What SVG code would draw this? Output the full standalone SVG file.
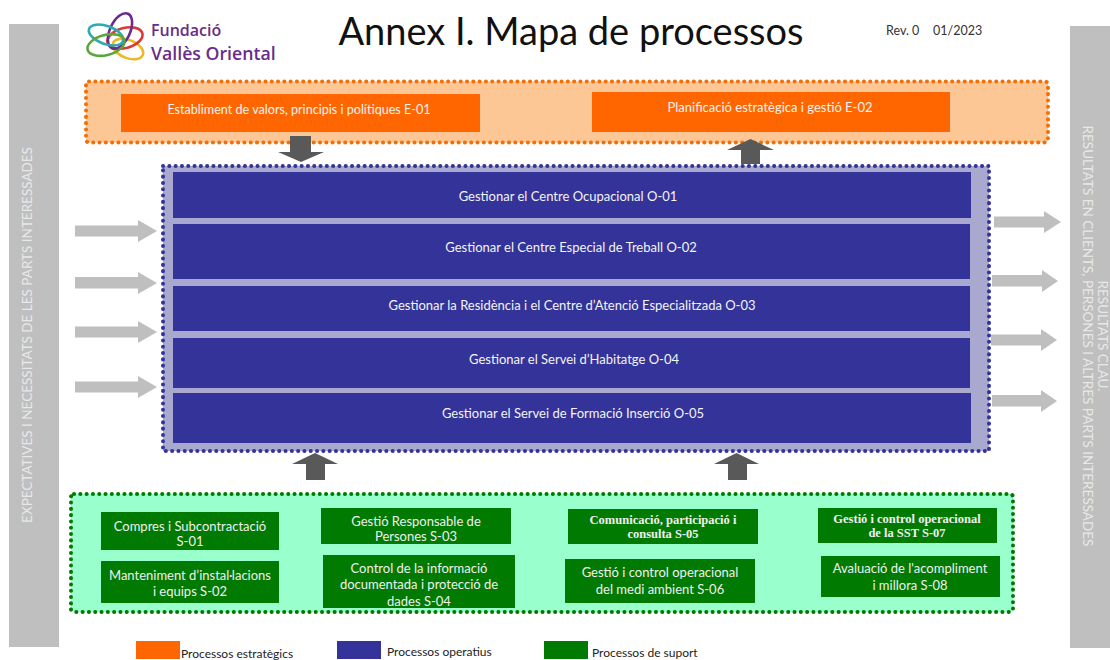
<svg xmlns="http://www.w3.org/2000/svg" width="1110" height="660" viewBox="0 0 1110 660">
<style>
text{font-family:"Lato","Liberation Sans",sans-serif;text-anchor:middle}
.side{fill:#bfbfbf}
.sidetxt{fill:#e8e8e8;font-size:13.500px}
.frame{stroke-width:4;stroke-dasharray:0.1 6.2;stroke-linecap:round}
.o{fill:#ff6600}.b{fill:#333399}.g{fill:#007a00}
.w{fill:#f4f4f4;font-size:13px}
.wg{fill:#f0f0f0;font-size:13px}
.sb{font-family:"Liberation Serif",serif;font-weight:bold;font-size:12.5px}
.leg{fill:#222;font-size:12px;text-anchor:start}
.ga{fill:#bfbfbf}.da{fill:#595959}
.ring{fill:none;stroke-width:2.6}
.lg{fill:#6a2c8c;font-family:"Open Sans",sans-serif;font-weight:600;font-size:16px;text-anchor:start}
</style>
<rect width="1110" height="660" fill="#fff"/>
<g id="side-left"><rect class="side" x="9" y="24" width="50" height="623"/><text class="sidetxt" transform="translate(32,335) rotate(-90)">EXPECTATIVES I NECESSITATS DE LES PARTS INTERESSADES</text></g>
<g id="side-right"><rect class="side" x="1070" y="26" width="40" height="622"/><text class="sidetxt" transform="translate(1098,336) rotate(90)">RESULTATS CLAU.</text><text class="sidetxt" transform="translate(1083,336) rotate(90)">RESULTATS EN CLIENTS, PERSONES I ALTRES PARTS INTERESSADES</text></g>
<g id="logo">
<ellipse class="ring" cx="128" cy="49" rx="16" ry="9" transform="rotate(22 128 49)" stroke="#efb82a"/>
<ellipse class="ring" cx="125" cy="38" rx="18" ry="10" transform="rotate(-15 125 38)" stroke="#d83a34"/>
<ellipse class="ring" cx="120" cy="31" rx="10" ry="19" transform="rotate(25 120 31)" stroke="#6a2c8c"/>
<ellipse class="ring" cx="106" cy="35" rx="18" ry="9" transform="rotate(20 106 35)" stroke="#2fa9b5"/>
<ellipse class="ring" cx="106" cy="45" rx="19" ry="10" transform="rotate(-15 106 45)" stroke="#5aa63c"/>
<text class="lg" x="151" y="36">Fundació</text><text class="lg" x="151" y="60" style="font-size:17.700px">Vallès Oriental</text>
</g>
<text id="title" x="571" y="45" style="font-size:38px;fill:#111">Annex I. Mapa de processos</text>
<text id="rev" x="886" y="35" style="font-size:12.500px;fill:#333;text-anchor:start">Rev. 0<tspan x="933">01/2023</tspan></text>

<g id="estrategics">
<rect class="frame" x="86" y="81.500" width="962" height="61" rx="3" fill="#fcc795" stroke="#f36f08"/>
</g>
<g id="E-01"><rect class="o" x="121" y="94" width="359" height="38"/><text class="w" x="299" y="114" style="font-size:12.600px">Establiment de valors, principis i polítiques E-01</text></g>
<g id="E-02"><rect class="o" x="592" y="92" width="358" height="40"/><text class="w" x="770" y="112">Planificació estratègica i gestió E-02</text></g>

<g id="operatius"><rect class="frame" x="163" y="166" width="826" height="285" fill="#a9a9cf" stroke="#333399"/></g>
<g id="O-01"><rect class="b" x="173" y="172" width="798" height="46"/><text class="w" x="568" y="201">Gestionar el Centre Ocupacional O-01</text></g>
<g id="O-02"><rect class="b" x="173" y="224" width="797" height="55"/><text class="w" x="571" y="252">Gestionar el Centre Especial de Treball O-02</text></g>
<g id="O-03"><rect class="b" x="173" y="286" width="797" height="45"/><text class="w" x="572" y="310">Gestionar la Residència i el Centre d’Atenció Especialitzada O-03</text></g>
<g id="O-04"><rect class="b" x="173" y="338" width="797" height="50"/><text class="w" x="574" y="364">Gestionar el Servei d’Habitatge O-04</text></g>
<g id="O-05"><rect class="b" x="173" y="393" width="798" height="50"/><text class="w" x="573" y="418">Gestionar el Servei de Formació Inserció O-05</text></g>

<g id="suport"><rect class="frame" x="71" y="494" width="942" height="118" rx="3" fill="#99ffcc" stroke="#007a00"/></g>
<g id="S-01"><rect class="g" x="101" y="512" width="178" height="38"/><text class="wg"><tspan x="190" y="531">Compres i Subcontractació</tspan><tspan x="190" y="546">S-01</tspan></text></g>
<g id="S-02"><rect class="g" x="101" y="561" width="178" height="42"/><text class="wg"><tspan x="190" y="580">Manteniment d’instal·lacions</tspan><tspan x="190" y="596">i equips S-02</tspan></text></g>
<g id="S-03"><rect class="g" x="321" y="508" width="190" height="36"/><text class="wg"><tspan x="416" y="526">Gestió Responsable de</tspan><tspan x="416" y="541">Persones S-03</tspan></text></g>
<g id="S-04"><rect class="g" x="323" y="555" width="192" height="53"/><text class="wg"><tspan x="419" y="573">Control de la informació</tspan><tspan x="419" y="589">documentada i protecció de</tspan><tspan x="419" y="606">dades S-04</tspan></text></g>
<g id="S-05"><rect class="g" x="568" y="509" width="190" height="35"/><text class="wg sb"><tspan x="663" y="524">Comunicació, participació i</tspan><tspan x="663" y="538">consulta S-05</tspan></text></g>
<g id="S-06"><rect class="g" x="565" y="559" width="190" height="44"/><text class="wg"><tspan x="660" y="577">Gestió i control operacional</tspan><tspan x="660" y="594">del medi ambient S-06</tspan></text></g>
<g id="S-07"><rect class="g" x="818" y="508" width="179" height="35"/><text class="wg sb"><tspan x="907" y="523">Gestió i control operacional</tspan><tspan x="907" y="537">de la SST S-07</tspan></text></g>
<g id="S-08"><rect class="g" x="821" y="556" width="179" height="41"/><text class="wg"><tspan x="910" y="573">Avaluació de l'acompliment</tspan><tspan x="910" y="590">i millora S-08</tspan></text></g>

<g id="connectors">
<polygon class="da" points="290,136 311,136 311,152 324,152 301,162 278,152 290,152"/>
<polygon class="da" points="741,164 760,164 760,150 774,150 750.500,139 727,150 741,150"/>
<polygon class="da" points="306,480 325,480 325,464 338,464 315,453 292,464 306,464"/>
<polygon class="da" points="728,480 747,480 747,464 759,464 736.500,453 714,464 728,464"/>
<path class="ga" d="M75 225.500H138V220L157 231L138 242V236.500H75Z"/>
<path class="ga" d="M75 277H138V272L157 283L138 294V288.500H75Z"/>
<path class="ga" d="M75 326.500H138V321L157 332L138 343V337.500H75Z"/>
<path class="ga" d="M75 381.500H138V376L157 387L138 398V392.500H75Z"/>
<path class="ga" d="M994 216.500H1044V211L1061 222L1044 233V227.500H994Z"/>
<path class="ga" d="M992 275H1042V270L1058 281L1042 292V286.500H992Z"/>
<path class="ga" d="M991 334.500H1041V329L1057 340L1041 351V345.500H991Z"/>
<path class="ga" d="M992 395H1041V390L1057 401L1041 412V406.500H992Z"/>
</g>

<g id="legend">
<rect class="o" x="136" y="641" width="44" height="18"/><text class="leg" x="181" y="658">Processos estratègics</text>
<rect class="b" x="337" y="641" width="44" height="18"/><text class="leg" x="387" y="656">Processos operatius</text>
<rect class="g" x="544" y="641" width="44" height="18"/><text class="leg" x="592" y="657">Processos de suport</text>
</g>
</svg>
